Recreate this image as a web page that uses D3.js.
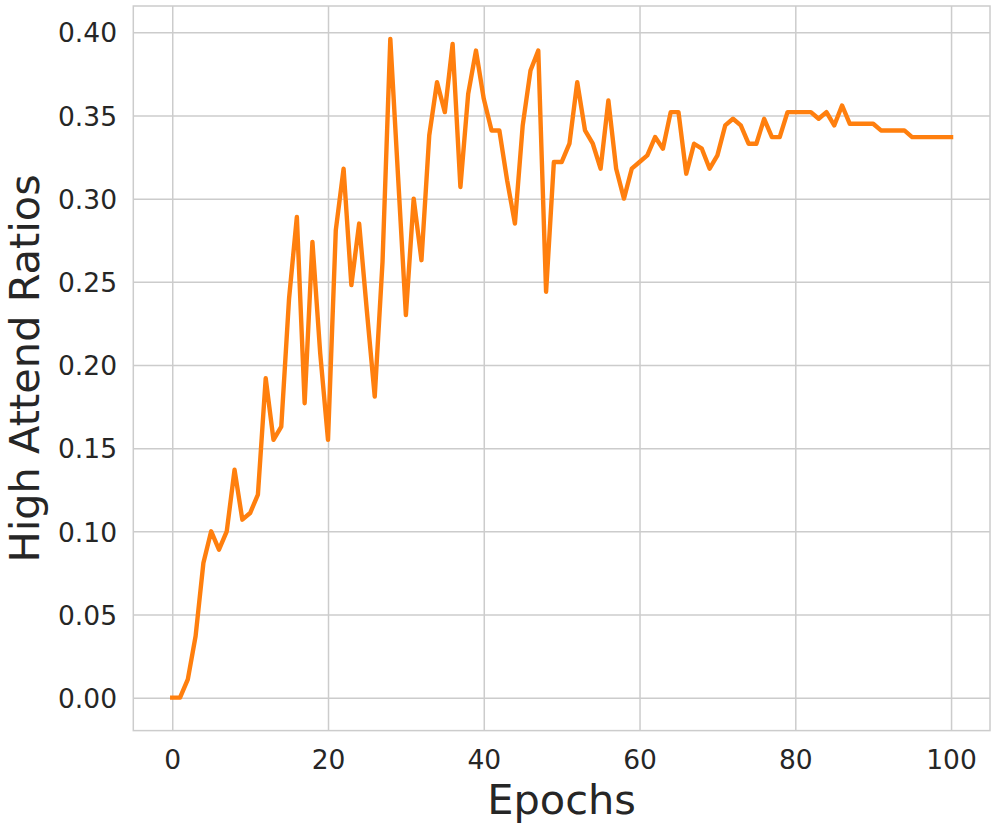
<!DOCTYPE html>
<html>
<head>
<meta charset="utf-8">
<script src="https://cdn.jsdelivr.net/npm/d3@7"></script>
<style>
  body { margin: 0; background: #fff; }
  text { font-family: "DejaVu Sans", sans-serif; fill: #262626; }
</style>
</head>
<body>
<div id="chart"></div>
<script>
// high attend ratio per epoch (epoch = index)
var ratios = [
  0.000, 0.000, 0.011, 0.037, 0.081, 0.100, 0.089, 0.100, 0.137, 0.107,
  0.111, 0.122, 0.192, 0.155, 0.163, 0.240, 0.289, 0.177, 0.274, 0.207,
  0.155, 0.281, 0.318, 0.248, 0.285, 0.232, 0.181, 0.262, 0.396, 0.313,
  0.230, 0.300, 0.263, 0.338, 0.370, 0.352, 0.393, 0.307, 0.363, 0.389,
  0.360, 0.341, 0.341, 0.311, 0.285, 0.344, 0.377, 0.389, 0.244, 0.322,
  0.322, 0.333, 0.370, 0.341, 0.333, 0.318, 0.359, 0.318, 0.300, 0.318,
  0.322, 0.326, 0.337, 0.330, 0.352, 0.352, 0.315, 0.333, 0.330, 0.318,
  0.326, 0.344, 0.348, 0.344, 0.333, 0.333, 0.348, 0.337, 0.337, 0.352,
  0.352, 0.352, 0.352, 0.348, 0.352, 0.344, 0.356, 0.345, 0.345, 0.345,
  0.345, 0.341, 0.341, 0.341, 0.341, 0.337, 0.337, 0.337, 0.337, 0.337,
  0.337
];
var epochs = d3.range(ratios.length);
var xTicks = [0, 20, 40, 60, 80, 100];
var yTicks = [0.00, 0.05, 0.10, 0.15, 0.20, 0.25, 0.30, 0.35, 0.40];
var xLabel = "Epochs", yLabel = "High Attend Ratios";

var margin = {top: 6, right: 6, bottom: 99.4, left: 133.3};
var W = 996, H = 830;
var width = W - margin.left - margin.right, height = H - margin.top - margin.bottom;

var svg = d3.select("#chart").append("svg")
    .attr("width", W).attr("height", H)
  .append("g")
    .attr("transform", "translate(" + margin.left + "," + margin.top + ")");

// matplotlib-like 5% margins
var xmin = d3.min(epochs), xmax = d3.max(epochs);
var ymin = d3.min(ratios), ymax = d3.max(ratios);
var xpad = (xmax - xmin) * 0.05, ypad = (ymax - ymin) * 0.05;
var x = d3.scaleLinear().domain([xmin - xpad, xmax + xpad]).range([0, width]);
var y = d3.scaleLinear().domain([ymin - ypad, ymax + ypad]).range([height, 0]);

var fs = 26.5;

// x axis + vertical grid
var gx = svg.append("g")
    .attr("transform", "translate(0," + height + ")")
    .call(d3.axisBottom(x).tickValues(xTicks).tickFormat(d3.format("d"))
      .tickSize(-height).tickPadding(20));
// y axis + horizontal grid
var gy = svg.append("g")
    .call(d3.axisLeft(y).tickValues(yTicks).tickFormat(d3.format(".2f"))
      .tickSize(-width).tickPadding(16.3));

[gx, gy].forEach(function(g){
  g.select(".domain").remove();
  g.selectAll(".tick line").attr("stroke", "#cccccc").attr("stroke-width", 1.5);
  g.selectAll(".tick text")
    .style("font-family", "'DejaVu Sans', sans-serif")
    .style("font-size", fs + "px")
    .attr("fill", "#262626");
});
gy.selectAll(".tick text").attr("dy", "0.365em");

// frame
svg.append("rect")
    .attr("x", 0).attr("y", 0)
    .attr("width", width).attr("height", height)
    .attr("fill", "none")
    .attr("stroke", "#cccccc")
    .attr("stroke-width", 1.5);

// line
var line = d3.line()
    .x(function(d, i){ return x(epochs[i]); })
    .y(function(d){ return y(d); });

svg.append("path")
    .datum(ratios)
    .attr("d", line)
    .attr("fill", "none")
    .attr("stroke", "#ff7f0e")
    .attr("stroke-width", 4.4)
    .attr("stroke-linejoin", "round")
    .attr("stroke-linecap", "square");

// axis labels
svg.append("text")
    .attr("x", width / 2)
    .attr("y", 813.6 - margin.top)
    .attr("text-anchor", "middle")
    .style("font-size", "41.5px")
    .text(xLabel);

svg.append("text")
    .attr("transform", "translate(" + (39 - margin.left) + "," + (height / 2) + ") rotate(-90)")
    .attr("text-anchor", "middle")
    .style("font-size", "41.5px")
    .text(yLabel);
</script>
</body>
</html>
